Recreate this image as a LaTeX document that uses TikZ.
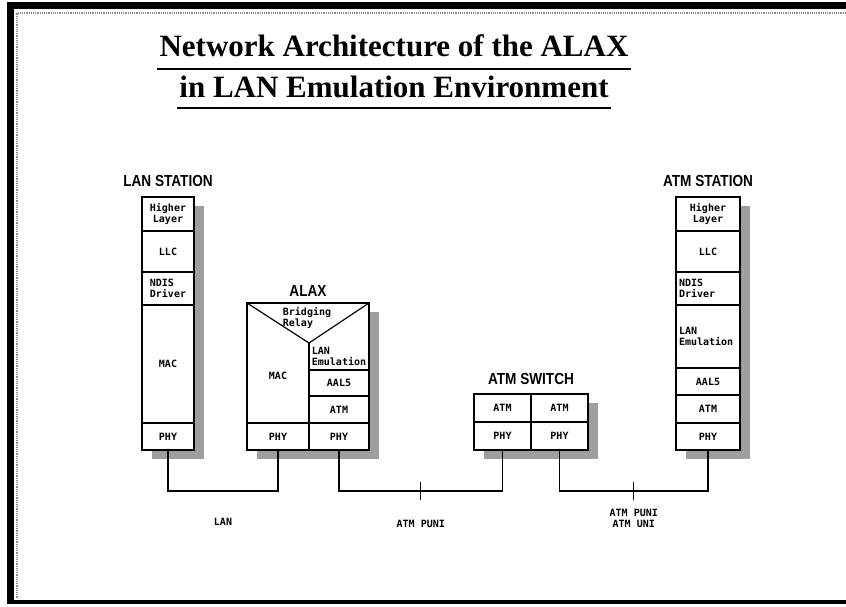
\documentclass[tikz,border=0pt]{standalone}
\usepackage{fontspec}
\setmainfont{Liberation Serif}
\newfontfamily\labelfont[FakeStretch=0.85]{Liberation Sans}
\newfontfamily\cellfont{DejaVu Sans Mono}
\usetikzlibrary{positioning, fit, backgrounds, calc, shadows}

\begin{document}
\begin{tikzpicture}[
  x=1pt, y=-1pt,
  cell/.style       = {rectangle, draw, line width=1.2pt, inner sep=1pt, outer sep=0pt,
                       minimum height=#1pt, align=center,
                       font=\cellfont\bfseries\fontsize{10}{11}\selectfont},
  textcell/.style   = {cell=#1, draw=none},
  castshadow/.style = {drop shadow={shadow xshift=10pt, shadow yshift=-9pt,
                       fill=black!38, opacity=1}},
  stack/.style      = {rectangle, draw, line width=1.2pt, inner sep=0pt, outer sep=0pt,
                       fill=white, castshadow},
  stationlbl/.style = {font=\labelfont\bfseries\fontsize{16}{16}\selectfont},
  wire/.style       = {line width=1.1pt},
  tickmark/.style   = {rectangle, draw, line width=1.1pt, inner sep=0pt,
                       minimum width=0pt, minimum height=18pt},
  linklbl/.style    = {font=\cellfont\bfseries\fontsize{10}{11}\selectfont, align=center},
  titlefont/.style  = {font=\bfseries\fontsize{31}{34}\selectfont, inner sep=0pt},
]
\useasboundingbox (0,0) rectangle (846,606);
% page frame
\fill (7,2) rectangle (846,9);
\fill (7,2) rectangle (14,604);
\fill (7,600) rectangle (846,604);
\draw[black!45, densely dotted, line width=1.2pt] (846,13) -- (17,13) -- (17,598);
% Title
\node[titlefont, anchor=base] (title1) at (394,56) {Network Architecture of the ALAX};
\node[titlefont, anchor=base] (title2) at (394,97) {in LAN Emulation Environment};
\draw[line width=2.4pt] ($(title1.base west)+(-2,13)$) -- ($(title1.base east)+(2,13)$);
\draw[line width=2.4pt] ($(title2.base west)+(-2,11)$) -- ($(title2.base east)+(2,11)$);
% LAN station
\node[cell=34, minimum width=52pt, anchor=north west] (lhl) at (142,197) {Higher\\Layer};
\node[cell=41, minimum width=52pt, below=0pt of lhl]   (lllc)  {LLC};
\node[cell=33, minimum width=52pt, below=0pt of lllc, align=left] (lndis) {NDIS\\Driver};
\node[cell=118, minimum width=52pt, below=0pt of lndis] (lmac)  {MAC};
\node[cell=27, minimum width=52pt, below=0pt of lmac]   (lphy)  {PHY};
% ALAX
\coordinate (alaxnw) at (247,303);
\node[cell=27, minimum width=62pt, anchor=south west] (aphyl) at (247,450) {PHY};
\node[cell=27, minimum width=60pt, right=0pt of aphyl] (aphyr) {PHY};
\node[cell=27, minimum width=60pt, above=0pt of aphyr] (aatm)  {ATM};
\node[cell=26, minimum width=60pt, above=0pt of aatm]  (aaal)  {AAL5};
\node[textcell=27, minimum width=60pt, above=0pt of aaal, align=left] (alane) {LAN\\Emulation};
\coordinate (apex) at (alane.north west);
\node[textcell=0] (amac) at (278,376) {MAC};
\node[textcell=0, anchor=north, align=left] (abridge) at ($(alaxnw -| apex)+(-2,3)$) {Bridging\\Relay};
% ATM switch
\node[cell=28, minimum width=57pt, anchor=south west] (sphyl) at (474,450) {PHY};
\node[cell=28, minimum width=57pt, right=0pt of sphyl] (sphyr) {PHY};
\node[cell=28, minimum width=57pt, above=0pt of sphyl] (satml) {ATM};
\node[cell=28, minimum width=57pt, above=0pt of sphyr] (satmr) {ATM};
% ATM station
\node[cell=34, minimum width=64pt, anchor=north west] (thl) at (676,197) {Higher\\Layer};
\node[cell=41, minimum width=64pt, below=0pt of thl]   (tllc)  {LLC};
\node[cell=33, minimum width=64pt, below=0pt of tllc, text width=58pt, align=left] (tndis) {NDIS\\Driver};
\node[cell=63, minimum width=64pt, below=0pt of tndis, text width=58pt, align=left] (tlane) {LAN\\Emulation};
\node[cell=27, minimum width=64pt, below=0pt of tlane] (taal)  {AAL5};
\node[cell=28, minimum width=64pt, below=0pt of taal]  (tatm)  {ATM};
\node[cell=27, minimum width=64pt, below=0pt of tatm]  (tphy)  {PHY};
% Background stack boxes with shadows
\begin{pgfonlayer}{background}
  \node[stack, fit=(lhl)(lphy)] (lan) {};
  \node[stack, line width=2.6pt, fit=(alaxnw)(aphyr)] (alax) {};
  \node[stack, fit=(satml)(sphyr)] (switch) {};
  \node[stack, fit=(thl)(tphy)] (atmst) {};
\end{pgfonlayer}
% ALAX inner lines
\draw[line width=1.2pt] (alax.north west) -- (apex) -- (alax.north east);
\draw[line width=1.2pt] (apex) -- (aaal.north west);
% Labels
\node[stationlbl, above=7pt of lan]    (lanlbl)  {LAN STATION};
\node[stationlbl, above=3pt of alax]   (alaxlbl) {ALAX};
\node[stationlbl, above=6pt of switch] (swlbl)   {ATM SWITCH};
\node[stationlbl, above=7pt of atmst]  (atmlbl)  {ATM STATION};
% Links
\draw[wire] (lphy.south) -- ++(0,41) -| node[pos=0.25, below=23pt, linklbl] (lanlink) {LAN} (aphyl.south);
\draw[wire] (aphyr.south) -- ++(0,41) -| node[pos=0.25, tickmark] (tick1) {}
  node[pos=0.25, below=25pt, linklbl] (punilbl) {ATM PUNI} (sphyl.south);
\draw[wire] (sphyr.south) -- ++(0,41) -| node[pos=0.25, tickmark] (tick2) {}
  node[pos=0.25, below=14pt, linklbl] (unilbl) {ATM PUNI\\ATM UNI} (tphy.south);
\end{tikzpicture}
\end{document}
